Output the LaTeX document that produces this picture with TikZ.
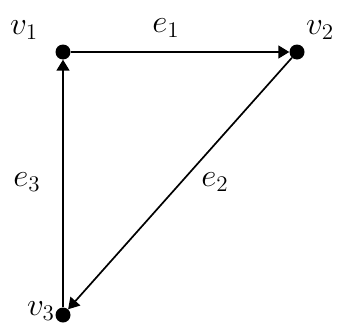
\documentclass[tikz,border=0pt]{standalone}
\usepackage{graphicx}
\usetikzlibrary{arrows.meta}
\newcommand{\biglbl}[1]{\scalebox{1.6}[1.55]{$#1$}}
\begin{document}
\begin{tikzpicture}[x=1pt,y=1pt,
  vtx/.style={circle,fill=black,inner sep=0pt,minimum size=15pt},
  lbl/.style={inner sep=0pt,font=\fontsize{20.74}{25}\selectfont},
  edge/.style={line width=1.7pt,-{Triangle[length=11pt,width=13pt]}}]
\useasboundingbox (0,0) rectangle (339,325);
\clip (0,0) rectangle (339,325);
\node[vtx] (v1) at (63,273) {};
\node[vtx] (v2) at (297,273) {};
\node[vtx] (v3) at (63,10) {};
\draw[edge] (v1) -- (v2);
\draw[edge] (v2) -- (v3);
\draw[edge] (v3) -- (v1);
\node[lbl] (l1) at (24,295) {\biglbl{v_1}};
\node[lbl,anchor=west] (l2) at (306,295) {\biglbl{v_2}};
\node[lbl,anchor=south east] (l3) at (55,4) {\biglbl{v_3}};
\node[lbl] (le1) at (166,297) {\biglbl{e_1}};
\node[lbl] (le2) at (215,143) {\biglbl{e_2}};
\node[lbl] (le3) at (27,143) {\biglbl{e_3}};
\end{tikzpicture}
\end{document}
